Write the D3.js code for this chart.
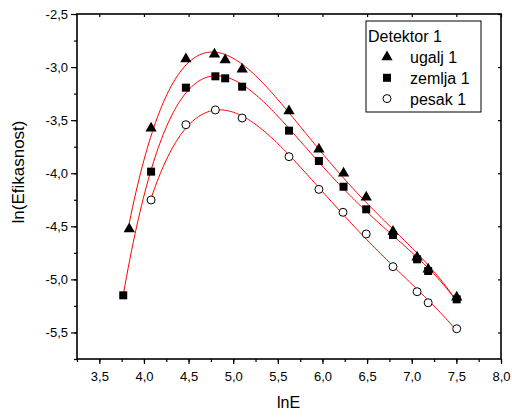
<!DOCTYPE html>
<html>

<head>
    <meta charset='utf-8' />
    <title>Detektor 1 - ln(Efikasnost) vs lnE</title>
    <script charset="utf-8" src="https://d3js.org/d3.v7.min.js"></script>
    <style>
        body {
            margin: 0;
            background: #fff;
            font-family: Arial, 'Liberation Sans', Helvetica, sans-serif;
        }
    </style>
</head>

<body>
    <div id="chart"></div>
</body>

<script>
    // values
    var ugaljX = [3.835, 4.08, 4.47, 4.79, 4.91, 5.10, 5.625, 5.96, 6.236, 6.49, 6.79, 7.06, 7.184, 7.504]
    var ugaljY = [-4.525, -3.577, -2.924, -2.88, -2.933, -3.02, -3.414, -3.775, -4.0, -4.227, -4.55, -4.792, -4.905, -5.169]

    var zemljaX = [3.768, 4.08, 4.47, 4.80, 4.91, 5.10, 5.625, 5.96, 6.236, 6.49, 6.79, 7.06, 7.184, 7.504]
    var zemljaY = [-5.15, -3.985, -3.194, -3.087, -3.106, -3.185, -3.599, -3.885, -4.127, -4.34, -4.582, -4.811, -4.921, -5.188]

    var pesakX = [4.08, 4.47, 4.80, 5.10, 5.625, 5.96, 6.23, 6.49, 6.79, 7.06, 7.184, 7.504]
    var pesakY = [-4.252, -3.543, -3.404, -3.48, -3.844, -4.152, -4.368, -4.572, -4.88, -5.116, -5.22, -5.465]

    var seriesNames = ["ugalj 1", "zemlja 1", "pesak 1"]
    var xMajorTicks = [3.5, 4.0, 4.5, 5.0, 5.5, 6.0, 6.5, 7.0, 7.5, 8.0]
    var yMajorTicks = [-2.5, -3.0, -3.5, -4.0, -4.5, -5.0, -5.5]

    var width = 512
    var height = 419
    // plot box edges (window.top is read-only, so no plain "top" here)
    var boxL = 77, boxR = 501, boxT = 14, boxB = 359

    var svg = d3.select("#chart").append("svg")
        .attr("width", width)
        .attr("height", height)

    var x = d3.scaleLinear().domain([3.25, 8.0]).range([boxL, boxR])
    var y = d3.scaleLinear().domain([-5.75, -2.5]).range([boxB, boxT])

    var comma = function (d) { return d3.format(".1f")(d).replace(".", ",").replace("−", "-") }

    // minor ticks every 0.25
    var xMinor = d3.range(3.25, 8.001, 0.25)
    var yMinor = d3.range(-5.75, -2.499, 0.25)

    // bottom axis
    svg.append("g")
        .attr("transform", "translate(0," + boxB + ")")
        .call(d3.axisBottom(x).tickValues(xMinor).tickSize(3).tickFormat(""))
    svg.append("g")
        .attr("transform", "translate(0," + boxB + ")")
        .call(d3.axisBottom(x).tickValues(xMajorTicks).tickSize(5).tickPadding(8).tickFormat(comma))

    // left axis
    svg.append("g")
        .attr("transform", "translate(" + boxL + ",0)")
        .call(d3.axisLeft(y).tickValues(yMinor).tickSize(3).tickFormat(""))
    svg.append("g")
        .attr("transform", "translate(" + boxL + ",0)")
        .call(d3.axisLeft(y).tickValues(yMajorTicks).tickSize(6).tickPadding(3).tickFormat(comma))

    // top and right: small inward ticks, no labels
    svg.append("g")
        .attr("transform", "translate(0," + boxT + ")")
        .call(d3.axisBottom(x).tickValues(xMajorTicks).tickSize(3).tickFormat(""))
    svg.append("g")
        .attr("transform", "translate(" + boxR + ",0)")
        .call(d3.axisLeft(y).tickValues(yMajorTicks).tickSize(3).tickFormat(""))

    svg.selectAll(".domain").remove()
    svg.selectAll(".tick line").attr("stroke", "#000").attr("stroke-width", 1.2)
    svg.selectAll(".tick text")
        .style("font-size", "13px")
        .style("font-family", "Arial, 'Liberation Sans', sans-serif")
        .attr("fill", "#000")

    // frame
    svg.append("rect")
        .attr("x", boxL).attr("y", boxT)
        .attr("width", boxR - boxL).attr("height", boxB - boxT)
        .attr("fill", "none").attr("stroke", "#000").attr("stroke-width", 1.6)

    // axis titles
    svg.append("text")
        .attr("x", 288.5).attr("y", 408)
        .attr("text-anchor", "middle")
        .style("font-size", "16px")
        .text("lnE")
    svg.append("text")
        .attr("transform", "translate(24,172) rotate(-90)")
        .attr("text-anchor", "middle")
        .style("font-size", "17px")
        .text("ln(Efikasnost)")

    // least squares polynomial fit, like the original fit lines
    function polyFit(xs, ys, deg) {
        var m = d3.mean(xs)
        var n = deg + 1
        var A = [], b = []
        for (var i = 0; i < n; i++) {
            A.push(new Array(n).fill(0))
            b.push(0)
        }
        xs.forEach(function (xv, k) {
            var t = xv - m
            for (var i = 0; i < n; i++) {
                b[i] += ys[k] * Math.pow(t, i)
                for (var j = 0; j < n; j++) A[i][j] += Math.pow(t, i + j)
            }
        })
        // gaussian elimination
        for (var c = 0; c < n; c++) {
            var p = c
            for (var r = c + 1; r < n; r++) if (Math.abs(A[r][c]) > Math.abs(A[p][c])) p = r
            var tmp = A[c]; A[c] = A[p]; A[p] = tmp
            var tb = b[c]; b[c] = b[p]; b[p] = tb
            for (var r = c + 1; r < n; r++) {
                var f = A[r][c] / A[c][c]
                for (var j = c; j < n; j++) A[r][j] -= f * A[c][j]
                b[r] -= f * b[c]
            }
        }
        var coef = new Array(n).fill(0)
        for (var i = n - 1; i >= 0; i--) {
            var s = b[i]
            for (var j = i + 1; j < n; j++) s -= A[i][j] * coef[j]
            coef[i] = s / A[i][i]
        }
        return function (xv) {
            var t = xv - m, v = 0
            for (var i = 0; i < n; i++) v += coef[i] * Math.pow(t, i)
            return v
        }
    }

    var series = [
        { name: seriesNames[0], xs: ugaljX, ys: ugaljY, shape: "triangle" },
        { name: seriesNames[1], xs: zemljaX, ys: zemljaY, shape: "square" },
        { name: seriesNames[2], xs: pesakX, ys: pesakY, shape: "circle" }
    ]

    var line = d3.line().x(function (d) { return x(d[0]) }).y(function (d) { return y(d[1]) })

    series.forEach(function (s) {
        var f = polyFit(s.xs, s.ys, 4)
        var x0 = d3.min(s.xs), x1 = d3.max(s.xs)
        var pts = d3.range(0, 201).map(function (i) {
            var xv = x0 + (x1 - x0) * i / 200
            return [xv, f(xv)]
        })
        svg.append("path")
            .datum(pts)
            .attr("d", line)
            .attr("fill", "none")
            .attr("stroke", "#ff0000")
            .attr("stroke-width", 1)
    })

    function drawMarker(g, shape, cx, cy) {
        if (shape == "triangle") {
            g.append("path")
                .attr("d", d3.symbol().type(d3.symbolTriangle).size(55)())
                .attr("transform", "translate(" + cx + "," + cy + ")")
                .attr("fill", "#000")
        } else if (shape == "square") {
            g.append("rect")
                .attr("x", cx - 4).attr("y", cy - 4)
                .attr("width", 8).attr("height", 8)
                .attr("fill", "#000")
        } else {
            g.append("circle")
                .attr("cx", cx).attr("cy", cy).attr("r", 4)
                .attr("fill", "#fff").attr("stroke", "#000").attr("stroke-width", 1)
        }
    }

    var marks = svg.append("g")
    series.forEach(function (s) {
        s.xs.forEach(function (xv, i) {
            drawMarker(marks, s.shape, x(xv), y(s.ys[i]))
        })
    })

    // legend
    var lg = svg.append("g")
    lg.append("rect")
        .attr("x", 366).attr("y", 21)
        .attr("width", 115).attr("height", 91)
        .attr("fill", "#fff").attr("stroke", "#000").attr("stroke-width", 1)
    lg.append("text")
        .attr("x", 368).attr("y", 42)
        .style("font-size", "16px")
        .text("Detektor 1")
    series.forEach(function (s, i) {
        var cy = 57 + i * 20.8
        drawMarker(lg, s.shape, 387, cy)
        lg.append("text")
            .attr("x", 410).attr("y", cy + 6.3)
            .style("font-size", "16px")
            .text(s.name)
    })
</script>

</html>
